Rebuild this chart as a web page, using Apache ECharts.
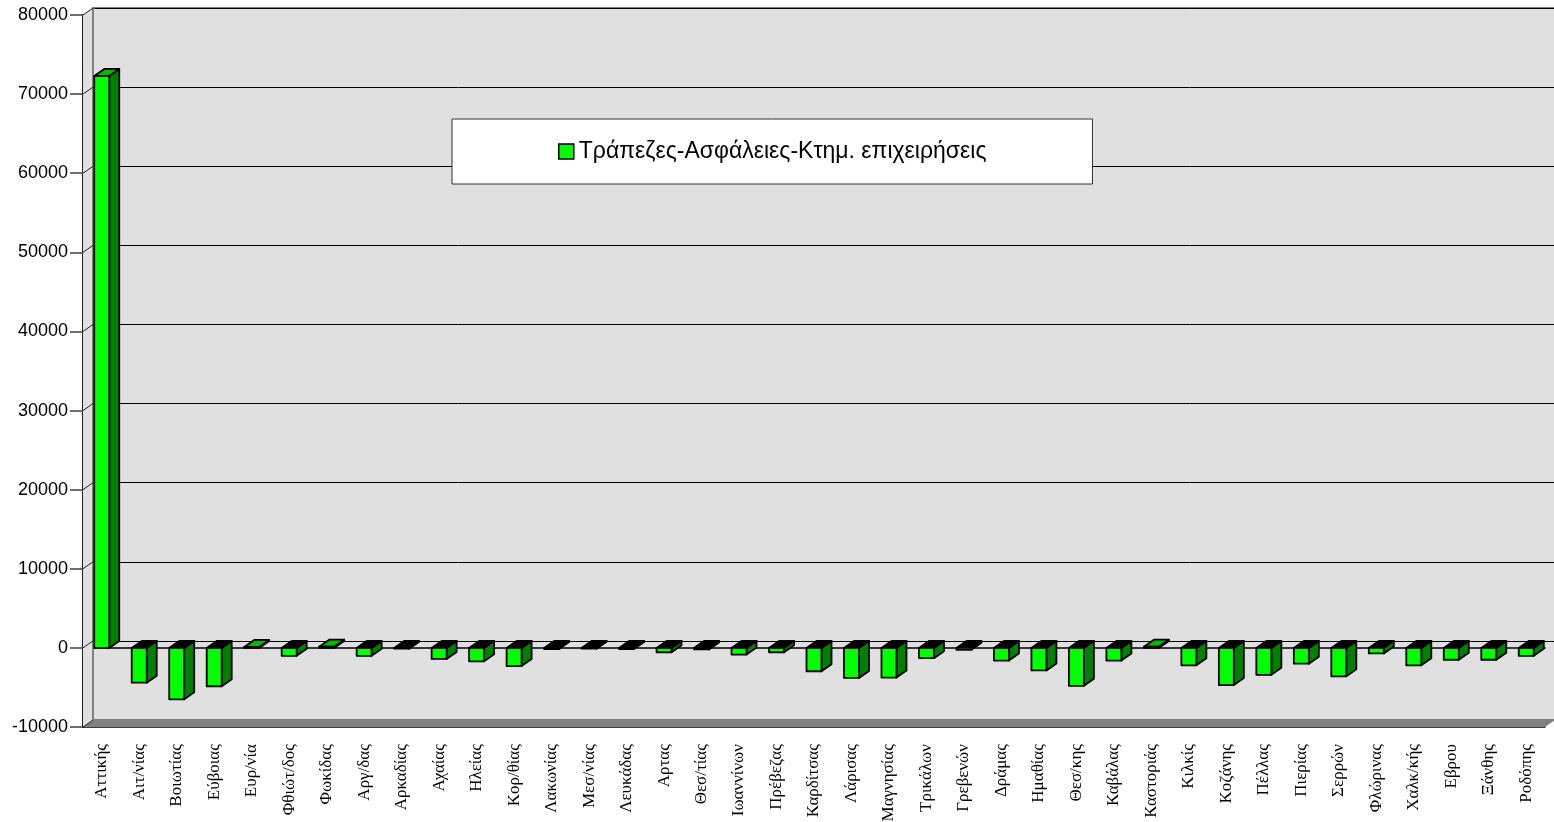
<!DOCTYPE html>
<html>
<head>
<meta charset="utf-8">
<script src="https://cdn.jsdelivr.net/npm/echarts@6/dist/echarts.min.js"></script>
<style>
  html, body { margin: 0; padding: 0; background: #fff; }
  #main { width: 1554px; height: 822px; }
</style>
</head>
<body>
<div id="main"></div>
<script>
// --- data ---
var seriesName = 'Τράπεζες-Ασφάλειες-Κτημ. επιχειρήσεις';
var regions = ['Αττικής', 'Αιτ/νίας', 'Βοιωτίας', 'Εύβοιας', 'Ευρ/νία', 'Φθιώτ/δος', 'Φωκίδας',
  'Αργ/δας', 'Αρκαδίας', 'Αχαίας', 'Ηλείας', 'Κορ/θίας', 'Λακωνίας', 'Μεσ/νίας', 'Λευκάδας',
  'Αρτας', 'Θεσ/τίας', 'Ιωαννίνων', 'Πρέβεζας', 'Καρδίτσας', 'Λάρισας', 'Μαγνησίας', 'Τρικάλων',
  'Γρεβενών', 'Δράμας', 'Ημαθίας', 'Θεσ/κης', 'Καβάλας', 'Καστοριάς', 'Κιλκίς', 'Κοζάνης',
  'Πέλλας', 'Πιερίας', 'Σερρών', 'Φλώρινας', 'Χαλκ/κής', 'Εβρου', 'Ξάνθης', 'Ροδόπης'];
var values = [72300, -4400, -6500, -4850, 120, -1000, 150,
  -1000, -100, -1400, -1700, -2300, -150, -100, -150,
  -550, -200, -850, -550, -2950, -3800, -3750, -1300,
  -250, -1600, -2850, -4800, -1600, 150, -2200, -4700,
  -3400, -2000, -3600, -700, -2200, -1500, -1500, -1000];
var yTicks = [-10000, 0, 10000, 20000, 30000, 40000, 50000, 60000, 70000, 80000];

// --- 3d look ---
var DX = 10, DY = -7;
var FRONT = { left: 83, right: 9, top: 15, bottom: 95 };

var myChart = echarts.init(document.getElementById('main'));

function renderWalls(params, api) {
  var cs = params.coordSys;
  var v = api.value(0);
  var p = api.coord([0, v]);
  var x = cs.x, y = p[1];
  var kids = [];
  if (params.dataIndex === 0) {
    var yb = cs.y + cs.height, yt = cs.y, xr = cs.x + cs.width;
    kids.push({ type: 'polygon', shape: { points: [[x, yt], [x + DX, yt + DY], [x + DX, yb + DY], [x, yb]] },
      style: { fill: '#e0e0e0', stroke: null } });
    kids.push({ type: 'polygon', shape: { points: [[x, yb], [xr, yb], [xr + DX, yb + DY], [x + DX, yb + DY]] },
      style: { fill: '#808080', stroke: null } });
    kids.push({ type: 'line', shape: { x1: x + DX, y1: yt + DY, x2: x + DX, y2: yb + DY },
      style: { stroke: '#808080', lineWidth: 2 } });
  }
  kids.push({ type: 'line', shape: { x1: x, y1: y, x2: x + DX, y2: y + DY },
    style: { stroke: '#202020', lineWidth: 1 } });
  return { type: 'group', children: kids };
}

function renderBar(params, api) {
  var i = api.value(0), v = api.value(1);
  var base = api.coord([i, 0]);
  var end = api.coord([i, v]);
  var w = api.size([1, 0])[0] * 0.4;
  var x0 = base[0] - w / 2, x1 = base[0] + w / 2;
  var yUp = Math.min(base[1], end[1]), yLo = Math.max(base[1], end[1]);
  var line = { stroke: '#000', lineWidth: 1.8, lineJoin: 'round' };
  return {
    type: 'group',
    children: [
      { type: 'polygon', shape: { points: [[x1, yUp], [x1 + DX, yUp + DY], [x1 + DX, yLo + DY], [x1, yLo]] },
        style: Object.assign({ fill: '#008000' }, line) },
      { type: 'polygon', shape: { points: [[x0, yUp], [x1, yUp], [x1 + DX, yUp + DY], [x0 + DX, yUp + DY]] },
        style: Object.assign({ fill: v >= 0 ? '#00b800' : '#000' }, line) },
      { type: 'rect', shape: { x: x0, y: yUp, width: w, height: Math.max(yLo - yUp, 0.5) },
        style: Object.assign({ fill: '#00ff00' }, line) }
    ]
  };
}

var option = {
  animation: false,
  backgroundColor: '#fff',
  legend: {
    data: [{ name: seriesName, icon: 'rect',
      itemStyle: { color: '#00ff00', borderColor: '#000', borderWidth: 1.5 } }],
    left: 452,
    top: 119,
    padding: [21, 106, 21, 106],
    itemWidth: 15,
    itemHeight: 15,
    backgroundColor: '#fff',
    borderColor: '#333',
    borderWidth: 1,
    textStyle: { fontFamily: 'Liberation Sans, Arial, sans-serif', fontSize: 23, color: '#000' }
  },
  grid: [
    { left: FRONT.left, right: FRONT.right, top: FRONT.top, bottom: FRONT.bottom,
      outerBoundsMode: 'none' },
    { left: FRONT.left + DX, right: -2, top: FRONT.top + DY, bottom: FRONT.bottom - DY,
      outerBoundsMode: 'none',
      show: true, backgroundColor: '#e0e0e0', borderColor: '#808080', borderWidth: 2 }
  ],
  xAxis: [
    { type: 'category', gridIndex: 0, data: regions,
      axisLine: { onZero: false, lineStyle: { color: '#000', width: 1.5 } },
      axisTick: { length: 12, lineStyle: { color: '#000', width: 1.5 } },
      axisLabel: { interval: 0, rotate: 90, margin: 17, color: '#000', fontSize: 17,
        fontFamily: 'Liberation Serif, Times New Roman, serif' } },
    { type: 'category', gridIndex: 0, data: regions,
      axisLine: { onZero: true, onZeroAxisIndex: 0, lineStyle: { color: '#000', width: 1.5 } },
      axisTick: { length: 10, lineStyle: { color: '#000', width: 1.5 } },
      axisLabel: { show: false } },
    { type: 'category', gridIndex: 1, data: regions, show: false }
  ],
  yAxis: [
    { type: 'value', gridIndex: 0, min: -10000, max: 80000, interval: 10000,
      axisLine: { show: true, lineStyle: { color: '#202020', width: 2 } },
      axisTick: { show: true, length: 13, lineStyle: { color: '#404040', width: 1.5 } },
      axisLabel: { margin: 15, color: '#000', fontSize: 18,
        fontFamily: 'Liberation Sans, Arial, sans-serif',
        formatter: function (val) { return String(val); } },
      splitLine: { show: false } },
    { type: 'value', gridIndex: 1, min: -10000, max: 80000, interval: 10000,
      axisLine: { show: false }, axisTick: { show: false }, axisLabel: { show: false },
      splitLine: { show: true, lineStyle: { color: '#000', width: 1 } } }
  ],
  series: [
    { name: 'walls', type: 'custom', xAxisIndex: 0, yAxisIndex: 0, silent: true, z: 1,
      data: yTicks.map(function (t) { return [t]; }),
      encode: { y: 0 },
      renderItem: renderWalls },
    { name: seriesName, type: 'custom', xAxisIndex: 0, yAxisIndex: 0, z: 3,
      itemStyle: { color: '#00ff00', borderColor: '#000' },
      data: values.map(function (v, i) { return [i, v]; }),
      encode: { x: 0, y: 1 },
      renderItem: renderBar }
  ]
};

myChart.setOption(option);
window.addEventListener('resize', function () {
  myChart.resize();
});
</script>
</body>
</html>
